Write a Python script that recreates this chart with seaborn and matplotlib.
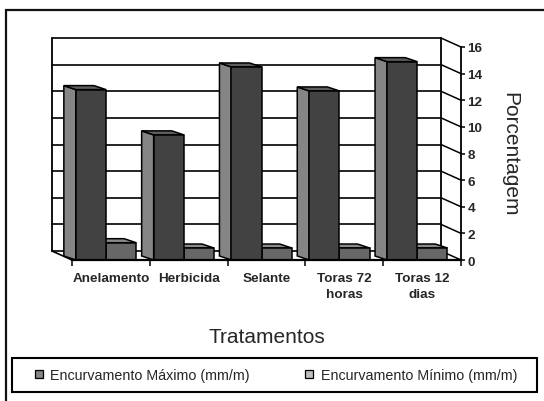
import numpy as np
import pandas as pd
import matplotlib
matplotlib.use("Agg")
import matplotlib.pyplot as plt
import seaborn as sns
from matplotlib.patches import Polygon, Rectangle, Patch
from matplotlib.lines import Line2D
from matplotlib.transforms import IdentityTransform

# ---------------- data ----------------
categories = ["Anelamento", "Herbicida", "Selante", "Toras 72\nhoras", "Toras 12\ndias"]
series = ["Encurvamento Máximo (mm/m)", "Encurvamento Mínimo (mm/m)"]
max_vals = [12.8, 9.4, 14.5, 12.7, 14.9]
min_vals = [1.3, 0.9, 0.9, 0.9, 0.9]
y_ticks = [0, 2, 4, 6, 8, 10, 12, 14, 16]
x_title = "Tratamentos"
y_title = "Porcentagem"

df = pd.DataFrame({
    "Tratamento": categories * 2,
    "Serie": [series[0]] * len(categories) + [series[1]] * len(categories),
    "Valor": max_vals + min_vals,
})

# ---------------- style ----------------
front_colors = ["#424242", "#676767"]
side_colors = ["#858585", "#8c8c8c"]
top_colors = ["#5e5e5e", "#8a8a8a"]
legend_colors = ["#858585", "#bdbdbd"]

sns.set_theme(style="white")
plt.rcParams["font.family"] = ["Liberation Sans", "DejaVu Sans"]

W, H = 544, 402
fig = plt.figure(figsize=(W / 100, H / 100), dpi=100)
fig.patch.set_facecolor("white")


def fx(px):
    return px / W


def fy(py):
    return 1 - py / H


AX_L, AX_R, AX_T, AX_B = 72, 461, 48, 261
ax = fig.add_axes([fx(AX_L), fy(AX_B), (AX_R - AX_L) / W, (AX_B - AX_T) / H])
ax.patch.set_alpha(0)

sns.barplot(data=df, x="Tratamento", y="Valor", hue="Serie",
            order=categories, hue_order=series, palette=front_colors,
            width=0.775, saturation=1, edgecolor="black", linewidth=1.1,
            errorbar=None, legend=False, ax=ax)

n = len(categories)
shift = 0.437
ax.set_xlim(-shift, n - shift)
ax.set_ylim(y_ticks[0], y_ticks[-1])

# depth offsets in pixels (display coords)
WALL = np.array([-20.0, 9.0])
BAR = np.array([-12.0, 4.0])
ident = IdentityTransform()


def disp(x, y):
    return ax.transData.transform((x, y))


def line(p, q, lw=1.1, z=1):
    ax.add_line(Line2D([p[0], q[0]], [p[1], q[1]], transform=ident,
                       color="black", lw=lw, zorder=z, clip_on=False))


xl, xr = -shift, n - shift
# back wall grid + slanted right ticks
for v in y_ticks:
    fl, fr = disp(xl, v), disp(xr, v)
    line(fl + WALL, fr + WALL, lw=1.2, z=0.5)
    line(fr + WALL, fr, lw=1.1, z=0.5)
line(disp(xl, 0) + WALL, disp(xl, y_ticks[-1]) + WALL, lw=1.3, z=0.5)
line(disp(xr, 0) + WALL, disp(xr, y_ticks[-1]) + WALL, lw=1.3, z=0.5)
line(disp(xl, 0) + WALL, disp(xl, 0), lw=1.2, z=0.5)

# 3D faces on bars
for si, cont in enumerate(ax.containers):
    zf = 6 if si == 0 else 4
    for bar in cont:
        bar.set_zorder(zf)
        x0, y0 = bar.get_x(), bar.get_y()
        x1, y1 = x0 + bar.get_width(), y0 + bar.get_height()
        bl, tl, tr = disp(x0, y0), disp(x0, y1), disp(x1, y1)
        side = Polygon([bl, tl, tl + BAR, bl + BAR], closed=True, transform=ident,
                       facecolor=side_colors[si], edgecolor="black", lw=1.1,
                       zorder=zf - 0.5, clip_on=False)
        top = Polygon([tl, tr, tr + BAR, tl + BAR], closed=True, transform=ident,
                      facecolor=top_colors[si], edgecolor="black", lw=1.1,
                      zorder=zf - 0.4, clip_on=False)
        ax.add_artist(side)
        ax.add_artist(top)

# spines / axes
for s in ["left", "top"]:
    ax.spines[s].set_visible(False)
ax.spines["bottom"].set_linewidth(1.6)
ax.spines["right"].set_linewidth(1.3)
ax.spines["bottom"].set_color("black")
ax.spines["right"].set_color("black")
ax.spines["bottom"].set_zorder(7)

ax.yaxis.tick_right()
ax.set_yticks(y_ticks)
ax.set_yticklabels([str(v) for v in y_ticks], fontsize=9.7, fontweight="bold")
ax.tick_params(axis="y", which="both", right=True, left=False, length=3,
               width=1.1, pad=1.5, color="black", direction="out")

bounds = [xl + k for k in range(n + 1)]
centers = [i + 0.064 for i in range(n)]
ax.set_xticks(bounds)
ax.set_xticklabels([""] * len(bounds))
ax.set_xticks(centers, minor=True)
ax.set_xticklabels(categories, minor=True, fontsize=9.7, fontweight="bold",
                   linespacing=1.5)
ax.tick_params(axis="x", which="major", bottom=True, length=4, width=1.1,
               color="black", direction="out")
ax.tick_params(axis="x", which="minor", bottom=True, length=0, pad=8.5)

ax.set_xlabel(x_title, fontsize=15)
ax.xaxis.label.set_va("center")
ax.xaxis.set_label_coords(0.5, -(338 - AX_B) / (AX_B - AX_T))

ax.yaxis.set_label_position("right")
ax.set_ylabel(y_title, fontsize=15, rotation=270, va="center")
ax.yaxis.set_label_coords((510 - AX_L) / (AX_R - AX_L), 0.5)

# legend
handles = [Patch(facecolor=c, edgecolor="black", lw=0.9) for c in legend_colors]
fig.legend(handles, series, loc="center", bbox_to_anchor=(fx(276), fy(376)),
           ncol=2, frameon=False, fontsize=10.3, handlelength=0.56,
           handleheight=0.56, handletextpad=0.5, columnspacing=3.9)
fig.add_artist(Rectangle((fx(12), fy(393)), (537 - 12) / W, (393 - 359) / H,
                         transform=fig.transFigure, fill=False, lw=1.5,
                         edgecolor="black"))
# outer chart frame (cut at right and bottom)
fig.add_artist(Rectangle((fx(6), fy(420)), (600 - 6) / W, (420 - 11) / H,
                         transform=fig.transFigure, fill=False, lw=1.6,
                         edgecolor="#111111", clip_on=False))

fig.savefig("out.png", dpi=100)
